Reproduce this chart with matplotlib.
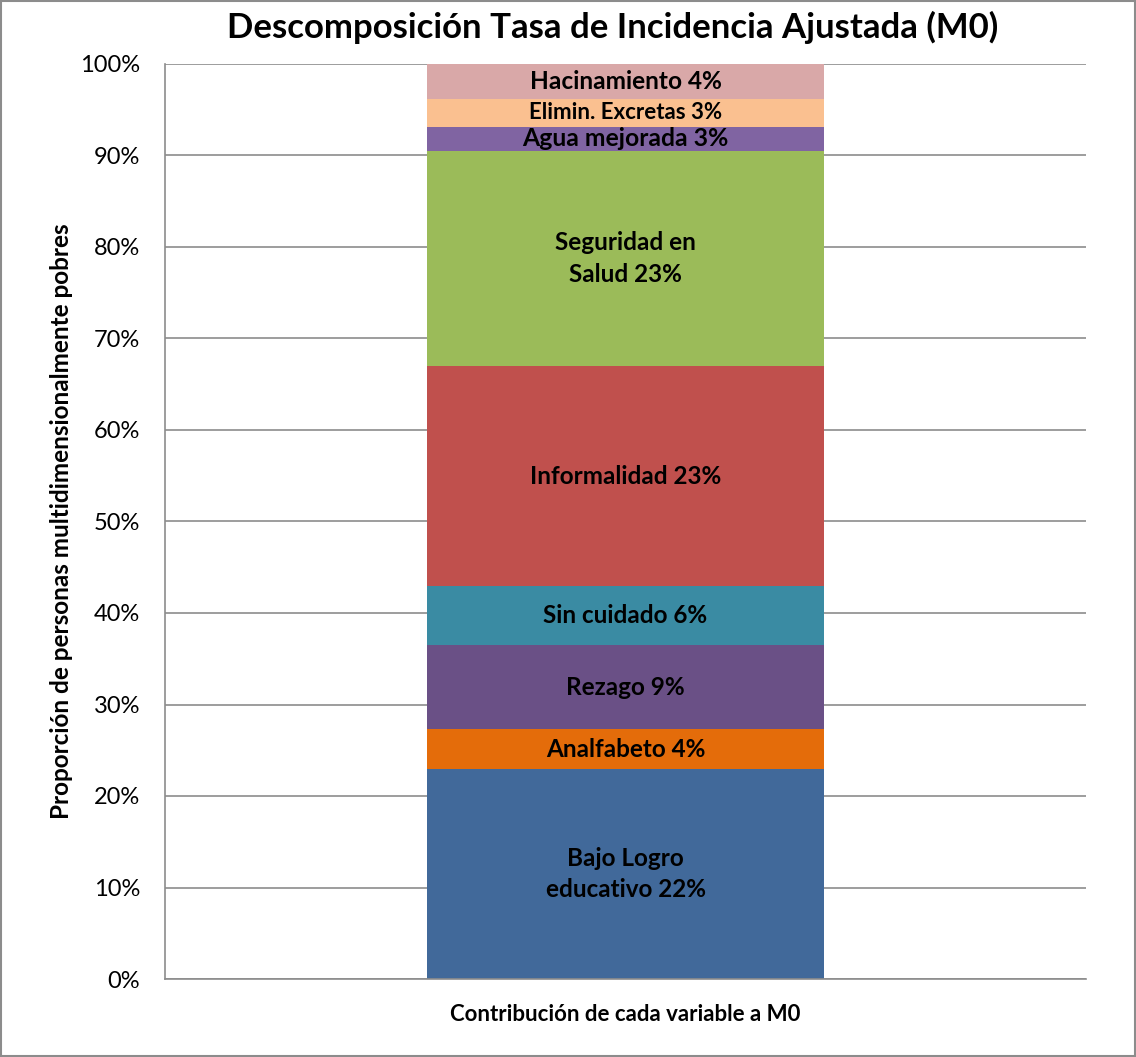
import numpy as np
import matplotlib.pyplot as plt

categorias = ['Bajo Logro', 'Analfabeto', 'Rezago', 'Sin cuidado', 'Informalidad',
              'Seguridad en Salud', 'Agua mejorada', 'Elimin. Excretas', 'Hacinamiento']
valores = [22.95, 4.37, 9.18, 6.45, 24.04, 23.5, 2.66, 3.06, 3.79]
etiquetas = ['Bajo Logro\neducativo 22%', 'Analfabeto 4%', 'Rezago 9%', 'Sin cuidado 6%',
             'Informalidad 23%', 'Seguridad en\nSalud 23%', 'Agua mejorada 3%',
             'Elimin. Excretas 3%', 'Hacinamiento 4%']
colores = ['#41699A', '#E46C0A', '#6A5086', '#3A8BA3', '#C0504D',
           '#9BBB59', '#8064A2', '#FAC090', '#D9A8A8']
tam_etiqueta = [17.5, 17.5, 17.5, 17.5, 17.5, 17.5, 17.8, 16, 17.6]

plt.rcParams['font.family'] = ['Lato', 'DejaVu Sans']

fig = plt.figure(figsize=(11.36, 10.57), dpi=100)
ax = fig.add_axes([165/1136, 1 - 979/1057, 921/1136, 915/1057])

base = 0
for v, c, et, fs in zip(valores, colores, etiquetas, tam_etiqueta):
    ax.bar(0, v, bottom=base, width=0.864, color=c, zorder=2)
    ax.text(0, base + v/2, et, ha='center', va='center', fontsize=fs,
            fontweight='bold', color='black', linespacing=1.45, zorder=3)
    base += v

ax.set_xlim(-1, 1)
ax.set_ylim(0, 100)
ax.set_yticks(np.arange(0, 101, 10))
ax.set_yticklabels([f'{t}%' for t in range(0, 101, 10)], fontsize=17)
ax.set_xticks([])
ax.yaxis.grid(True, color='#8C8C8C', linewidth=1.2, zorder=0)
ax.tick_params(axis='y', length=0, pad=18)
for s in ['top', 'right']:
    ax.spines[s].set_visible(False)
for s in ['left', 'bottom']:
    ax.spines[s].set_color('#8C8C8C')
    ax.spines[s].set_linewidth(1.2)

ax.set_ylabel('Proporción de personas multidimensionalmente pobres',
              fontsize=17.5, fontweight='bold', labelpad=5)
ax.set_xlabel('Contribución de cada variable a M0', fontsize=16,
              fontweight='bold', labelpad=18)
fig.suptitle('Descomposición Tasa de Incidencia Ajustada (M0)', fontsize=25,
             fontweight='bold', x=0.539, y=0.99)

fig.patches.append(plt.Rectangle((0.001, 0.001), 0.998, 0.998, transform=fig.transFigure,
                                 fill=False, edgecolor='#8C8C8C', linewidth=1.5))

fig.savefig('out.png', dpi=100)
